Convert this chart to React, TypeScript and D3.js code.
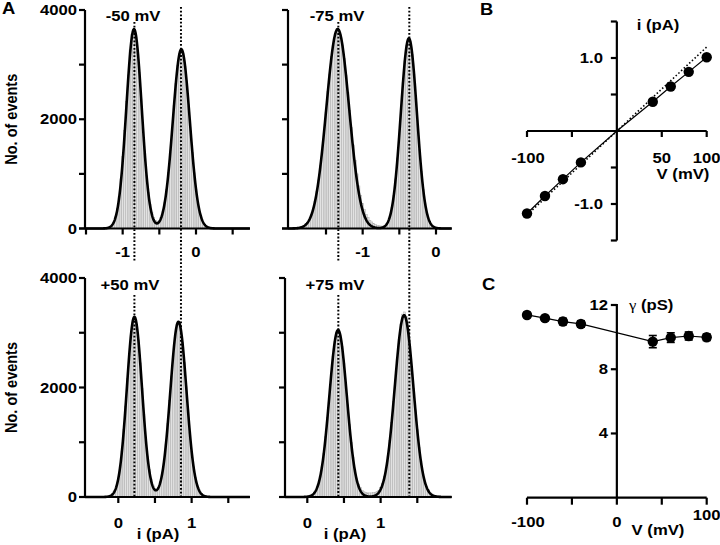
import React from "react";
import * as d3 from "d3";

// ---------- Panel A: amplitude histograms (bin width 0.025 pA) ----------
const BIN = 0.025;
const histTLStart = -1.25;
const histTL = [0, 5, 10, 30, 60, 120, 210, 370, 590, 910, 1320, 1790, 2330, 2810, 3270, 3560, 3640, 3580, 3280, 2860, 2370, 1840, 1380, 980, 660, 440, 300, 200, 150, 130, 150, 200, 310, 480, 720, 1030, 1400, 1810, 2250, 2660, 2990, 3200, 3290, 3210, 2970, 2640, 2230, 1800, 1390, 1020, 710, 480, 300, 180, 100, 60, 30, 15, 5];
const histTRStart = -1.85;
const histTR = [15, 25, 45, 70, 110, 170, 250, 350, 490, 680, 890, 1160, 1450, 1800, 2130, 2510, 2830, 3150, 3380, 3570, 3660, 3640, 3540, 3360, 3110, 2810, 2490, 2160, 1850, 1530, 1250, 1000, 780, 600, 460, 350, 260, 200, 150, 120, 95, 75, 60, 50, 45, 45, 55, 85, 145, 240, 390, 610, 910, 1290, 1730, 2200, 2680, 3070, 3360, 3490, 3420, 3190, 2830, 2390, 1910, 1450, 1050, 720, 470, 290, 170, 95, 50, 25, 12, 5, 2];
const histBLStart = -0.2;
const histBL = [0, 2, 5, 12, 26, 55, 105, 195, 335, 550, 840, 1230, 1660, 2160, 2600, 3000, 3230, 3300, 3160, 2870, 2450, 1980, 1510, 1100, 750, 500, 330, 220, 160, 140, 180, 280, 440, 665, 970, 1340, 1760, 2210, 2620, 2950, 3150, 3210, 3090, 2830, 2460, 2030, 1590, 1180, 840, 560, 360, 220, 125, 70, 36, 18, 9, 4, 2];
const histBRStart = 0;
const histBR = [6, 12, 24, 46, 82, 140, 230, 370, 550, 800, 1100, 1450, 1840, 2210, 2570, 2840, 3010, 3060, 2960, 2750, 2440, 2080, 1700, 1330, 1000, 730, 510, 350, 240, 170, 120, 95, 80, 75, 75, 75, 80, 85, 100, 125, 170, 250, 370, 530, 750, 1030, 1360, 1740, 2140, 2530, 2880, 3160, 3340, 3380, 3300, 3080, 2760, 2380, 1980, 1590, 1230, 910, 660, 460, 310, 200, 130, 85, 55, 40, 30, 25, 20];

// Gaussian fits: [mean (pA), sd (pA), amplitude (events)]
const fitTL = [[-0.845, 0.105, 3650], [-0.2, 0.115, 3280]];
const fitTR = [[-1.34, 0.155, 3650], [-0.37, 0.11, 3480]];
const fitBL = [[0.22, 0.103, 3290], [0.82, 0.11, 3200]];
const fitBR = [[0.42, 0.119, 3050], [1.32, 0.127, 3320]];

const voltageLabels = ["-50 mV", "-75 mV", "+50 mV", "+75 mV"];
const countTicks = [0, 1000, 2000, 3000, 4000];
const countLabels = [0, 2000, 4000];
const ticksTL = [-1.5, -1, -0.5, 0, 0.5];
const ticksTR = [-1.5, -1, -0.5, 0];
const ticksB = [0, 0.5, 1, 1.5];
const labelsTop = [-1, 0];
const labelsBottom = [0, 1];
// dotted level markers (pA on the top panel's axis)
const levelsLeft = [-0.84, -0.205];
const levelsRight = [-1.332, -0.364];

// ---------- Panel B: i-V ----------
const ivV = [-100, -80, -60, -40, 40, 60, 80, 100];
const ivI = [-1.13, -0.89, -0.66, -0.43, 0.4, 0.61, 0.81, 1.01];
const ivDotSlope = 0.0115;
const ivXTicks = [-100, -50, 50, 100];
const ivYTicks = [-1.5, -1, -0.5, 0.5, 1, 1.5];

// ---------- Panel C: conductance ----------
const gV = [-100, -80, -60, -40, 40, 60, 80, 100];
const gPS = [11.38, 11.18, 10.97, 10.82, 9.72, 9.97, 10.07, 9.99];
const gErr = [0.15, 0.15, 0.2, 0.2, 0.38, 0.3, 0.25, 0.2];
const gXTicks = [-100, -50, 0, 50, 100];
const gYTicks = [4, 8, 12];

const SANS = "'Liberation Sans', Arial, Helvetica, sans-serif";
const SX = 1.15;
const FS = 14.5;

function Txt({ x, y, anchor = "middle", size = FS, rot = 0, children, family = SANS, weight = "bold" }: any) {
  return (
    <text
      transform={`translate(${x},${y}) scale(${SX},1)${rot ? ` rotate(${rot})` : ""}`}
      textAnchor={anchor}
      fontSize={size}
      fontWeight={weight}
      fontFamily={family}
      fill="#000"
    >
      {children}
    </text>
  );
}

const AX = 2.2;

function HistPanel({ xs, ys, hist, start, fit, ticks, labels, labelY, vlabel, vx, vy, showY, title, titleX }: any) {
  const [d0, d1] = xs.domain();
  const [px0, px1] = xs.range();
  const y0 = ys(0);
  const bw = xs(BIN) - xs(0);
  const pts: [number, number][] = [];
  for (let v = d0; v <= d1 + 1e-9; v += 0.004) {
    let s = 0;
    for (const [m, sd, a] of fit) s += a * Math.exp(-((v - m) ** 2) / (2 * sd * sd));
    pts.push([v, s]);
  }
  const line = d3.line<[number, number]>().x((d) => xs(d[0])).y((d) => ys(d[1]));
  return (
    <g>
      {hist.map((c: number, i: number) => {
        const cx = start + i * BIN;
        return (
          <rect key={i} x={xs(cx) - bw / 2} y={ys(c)} width={bw} height={y0 - ys(c)} fill="#e2e2e2" stroke="#acacac" strokeWidth={0.5} />
        );
      })}
      <path d={line(pts) || ""} fill="none" stroke="#000" strokeWidth={2.6} strokeLinejoin="round" />
      <line x1={px0} x2={px0} y1={ys(0)} y2={ys(4000)} stroke="#000" strokeWidth={AX} />
      {countTicks.map((t) => (
        <line key={t} x1={px0 - 6} x2={px0} y1={ys(t)} y2={ys(t)} stroke="#000" strokeWidth={AX} />
      ))}
      <line x1={px0 - 6} x2={px1} y1={y0} y2={y0} stroke="#000" strokeWidth={AX} />
      {ticks.map((t: number) => (
        <line key={t} x1={xs(t)} x2={xs(t)} y1={y0} y2={y0 + 6} stroke="#000" strokeWidth={AX} />
      ))}
      {labels.map((t: number) => (
        <Txt key={t} x={xs(t)} y={labelY}>{String(t)}</Txt>
      ))}
      {showY &&
        countLabels.map((t: number) => (
          <Txt key={t} x={77} y={ys(t) + 5} anchor="end">{String(t)}</Txt>
        ))}
      {showY && (
        <Txt x={17} y={(ys(0) + ys(4000)) / 2} rot={-90}>No. of events</Txt>
      )}
      <Txt x={vx} y={vy}>{vlabel}</Txt>
      {title && <Txt x={titleX} y={539}>{title}</Txt>}
    </g>
  );
}

export default function App() {
  const yTop = d3.scaleLinear().domain([0, 4000]).range([228.5, 10]);
  const yBot = d3.scaleLinear().domain([0, 4000]).range([497, 278]);
  const k = 73.33;
  const xTL = d3.scaleLinear().domain([(85 - 196) / k, (250 - 196) / k]).range([85, 250]);
  const xTR = d3.scaleLinear().domain([(288 - 436) / k, (451.7 - 436) / k]).range([288, 451.7]);
  const xBL = d3.scaleLinear().domain([(85 - 118.3) / k, (250 - 118.3) / k]).range([85, 250]);
  const xBR = d3.scaleLinear().domain([(285 - 307.3) / k, (451.7 - 307.3) / k]).range([285, 451.7]);

  const xB = d3.scaleLinear().domain([-100, 100]).range([527, 706.7]);
  const yB = d3.scaleLinear().domain([-1.5, 1.5]).range([240.5, 21.5]);
  const yC = d3.scaleLinear().domain([0, 12]).range([497.7, 305]);

  const ivLine = d3.line<[number, number]>().x((d) => xB(d[0])).y((d) => yB(d[1]));
  const ivPts: [number, number][] = ivV.map((v, i) => [v, ivI[i]]);
  ivPts.splice(4, 0, [0, 0]);
  const gLine = d3.line<[number, number]>().x((d) => xB(d[0])).y((d) => yC(d[1]));

  const dot = { stroke: "#000", strokeWidth: 2, strokeDasharray: "1.8,1.9" };

  return (
    <svg width={720} height={545} style={{ position: "absolute", left: 0, top: 0, background: "#fff" }}>
      <rect x={0} y={0} width={720} height={545} fill="#fff" />
      <HistPanel xs={xTL} ys={yTop} hist={histTL} start={histTLStart} fit={fitTL} ticks={ticksTL} labels={labelsTop} labelY={257} vlabel={voltageLabels[0]} vx={133} vy={20.5} showY />
      <HistPanel xs={xTR} ys={yTop} hist={histTR} start={histTRStart} fit={fitTR} ticks={ticksTR} labels={labelsTop} labelY={257} vlabel={voltageLabels[1]} vx={337} vy={20.5} />
      <HistPanel xs={xBL} ys={yBot} hist={histBL} start={histBLStart} fit={fitBL} ticks={ticksB} labels={labelsBottom} labelY={528} vlabel={voltageLabels[2]} vx={130} vy={290} showY title="i (pA)" titleX={158} />
      <HistPanel xs={xBR} ys={yBot} hist={histBR} start={histBRStart} fit={fitBR} ticks={ticksB} labels={labelsBottom} labelY={528} vlabel={voltageLabels[3]} vx={335} vy={290} title="i (pA)" titleX={345} />

      <line x1={xTL(levelsLeft[0])} x2={xTL(levelsLeft[0])} y1={22} y2={262} {...dot} />
      <line x1={xTL(levelsLeft[0])} x2={xTL(levelsLeft[0])} y1={295} y2={497} {...dot} />
      <line x1={xTL(levelsLeft[1])} x2={xTL(levelsLeft[1])} y1={7} y2={497} {...dot} />
      <line x1={xTR(levelsRight[0])} x2={xTR(levelsRight[0])} y1={22} y2={262} {...dot} />
      <line x1={xTR(levelsRight[0])} x2={xTR(levelsRight[0])} y1={295} y2={497} {...dot} />
      <line x1={xTR(levelsRight[1])} x2={xTR(levelsRight[1])} y1={7} y2={497} {...dot} />

      <Txt x={2} y={14} anchor="start" size={16}>A</Txt>

      {/* Panel B */}
      <Txt x={480} y={15} anchor="start" size={16}>B</Txt>
      <line x1={xB(-100)} x2={xB(100)} y1={yB(0)} y2={yB(0)} stroke="#000" strokeWidth={AX} />
      {ivXTicks.map((t) => (
        <line key={t} x1={xB(t)} x2={xB(t)} y1={yB(0)} y2={yB(0) + 6} stroke="#000" strokeWidth={AX} />
      ))}
      <line x1={xB(0)} x2={xB(0)} y1={yB(-1.5)} y2={yB(1.5)} stroke="#000" strokeWidth={AX} />
      {ivYTicks.map((t) => (
        <line key={t} x1={xB(0) - 6} x2={xB(0)} y1={yB(t)} y2={yB(t)} stroke="#000" strokeWidth={AX} />
      ))}
      <line x1={xB(-100)} x2={xB(100)} y1={yB(-100 * ivDotSlope)} y2={yB(100 * ivDotSlope)} stroke="#000" strokeWidth={1.6} strokeDasharray="1.5,2.2" />
      <path d={ivLine(ivPts) || ""} fill="none" stroke="#000" strokeWidth={1.2} />
      {ivV.map((v, i) => (
        <circle key={v} cx={xB(v)} cy={yB(ivI[i])} r={5.2} fill="#000" />
      ))}
      <Txt x={603} y={yB(1) + 5} anchor="end">1.0</Txt>
      <Txt x={603} y={yB(-1) + 5} anchor="end">-1.0</Txt>
      <Txt x={xB(-100) + 1} y={163}>-100</Txt>
      <Txt x={xB(50)} y={163}>50</Txt>
      <Txt x={xB(100)} y={163}>100</Txt>
      <Txt x={683} y={179}>V (mV)</Txt>
      <Txt x={658} y={30}>i (pA)</Txt>

      {/* Panel C */}
      <Txt x={482} y={290} anchor="start" size={16}>C</Txt>
      <line x1={xB(-100)} x2={xB(100)} y1={yC(0)} y2={yC(0)} stroke="#000" strokeWidth={AX} />
      {gXTicks.map((t) => (
        <line key={t} x1={xB(t)} x2={xB(t)} y1={yC(0)} y2={yC(0) + 7} stroke="#000" strokeWidth={AX} />
      ))}
      <line x1={xB(0)} x2={xB(0)} y1={yC(0)} y2={yC(12) - 1} stroke="#000" strokeWidth={AX} />
      {gYTicks.map((t) => (
        <line key={t} x1={xB(0) - 6} x2={xB(0)} y1={yC(t)} y2={yC(t)} stroke="#000" strokeWidth={AX} />
      ))}
      <path d={gLine(gV.map((v, i) => [v, gPS[i]] as [number, number])) || ""} fill="none" stroke="#000" strokeWidth={1.2} />
      {gV.map((v, i) => (
        <g key={v}>
          <line x1={xB(v)} x2={xB(v)} y1={yC(gPS[i] - gErr[i])} y2={yC(gPS[i] + gErr[i])} stroke="#000" strokeWidth={1.6} />
          <line x1={xB(v) - 4} x2={xB(v) + 4} y1={yC(gPS[i] - gErr[i])} y2={yC(gPS[i] - gErr[i])} stroke="#000" strokeWidth={1.6} />
          <line x1={xB(v) - 4} x2={xB(v) + 4} y1={yC(gPS[i] + gErr[i])} y2={yC(gPS[i] + gErr[i])} stroke="#000" strokeWidth={1.6} />
          <circle cx={xB(v)} cy={yC(gPS[i])} r={5.2} fill="#000" />
        </g>
      ))}
      {gYTicks.map((t) => (
        <Txt key={t} x={608} y={yC(t) + 5} anchor="end">{String(t)}</Txt>
      ))}
      <Txt x={xB(-100) + 1} y={527}>-100</Txt>
      <Txt x={xB(0)} y={527}>0</Txt>
      <Txt x={xB(100)} y={520}>100</Txt>
      <Txt x={658} y={535}>V (mV)</Txt>
      <text transform={`translate(629,310) scale(${SX},1)`} fontSize={FS} fill="#000">
        <tspan fontFamily="'Liberation Serif', 'Times New Roman', serif">γ</tspan>
        <tspan fontFamily={SANS} fontWeight="bold"> (pS)</tspan>
      </text>
    </svg>
  );
}
